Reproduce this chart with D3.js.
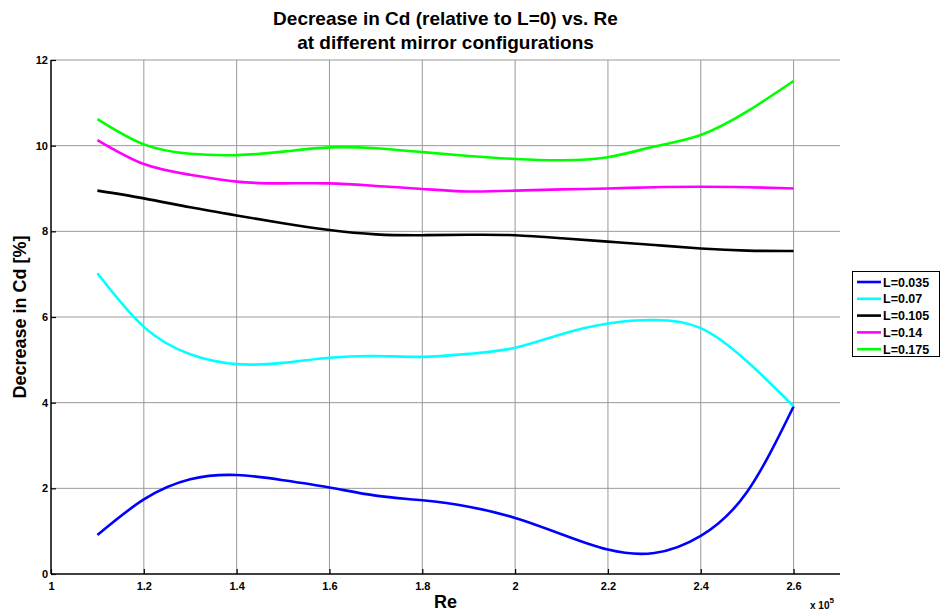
<!DOCTYPE html>
<html><head><meta charset="utf-8">
<script src="https://cdn.jsdelivr.net/npm/d3@7"></script>
<style>body{margin:0;background:#fff;} svg{display:block;font-family:Arial,"Liberation Sans",sans-serif;}</style>
</head><body>
<script>
const reValues = [1.1,1.2,1.3,1.4,1.5,1.6,1.7,1.8,1.9,2.0,2.1,2.2,2.3,2.4,2.5,2.6];
const seriesNames = ["L=0.035","L=0.07","L=0.105","L=0.14","L=0.175"];
const seriesColors = ["#0000ff","#00ffff","#000000","#ff00ff","#00ff00"];
const L035 = [0.91,1.74,2.21,2.31,2.19,2.02,1.83,1.72,1.57,1.31,0.93,0.57,0.49,0.89,1.92,3.91];
const L070 = [7.02,5.77,5.13,4.90,4.93,5.05,5.09,5.07,5.14,5.28,5.60,5.85,5.93,5.74,4.96,3.92];
const L105 = [8.95,8.77,8.56,8.37,8.19,8.03,7.93,7.91,7.92,7.91,7.84,7.76,7.68,7.60,7.55,7.54];
const L140 = [10.13,9.57,9.32,9.16,9.12,9.12,9.06,8.99,8.93,8.95,8.98,9.00,9.03,9.04,9.03,9.00];
const L175 = [10.62,10.03,9.81,9.78,9.86,9.96,9.94,9.85,9.76,9.69,9.66,9.73,9.98,10.25,10.80,11.51];
const xTicks = [1,1.2,1.4,1.6,1.8,2,2.2,2.4,2.6];
const yTicks = [0,2,4,6,8,10,12];
const titleLines = ["Decrease in Cd (relative to L=0) vs. Re","at different mirror configurations"];

const seriesData = [L035,L070,L105,L140,L175];
const W=943,H=611;
const m={left:51,right:840,top:60,bottom:574};
const svg=d3.select("body").append("svg").attr("width",W).attr("height",H);
const x=d3.scaleLinear().domain([1,2.7]).range([m.left,m.right]);
const y=d3.scaleLinear().domain([0,12]).range([m.bottom,m.top]);

// grid
const g=svg.append("g");
g.selectAll("line.vg").data(xTicks.filter(d=>d>1)).enter().append("line")
 .attr("x1",d=>x(d)).attr("x2",d=>x(d)).attr("y1",m.top).attr("y2",m.bottom)
 .attr("stroke","#999").attr("stroke-width",1);
g.selectAll("line.hg").data(yTicks.filter(d=>d>0)).enter().append("line")
 .attr("x1",m.left).attr("x2",m.right).attr("y1",d=>y(d)).attr("y2",d=>y(d))
 .attr("stroke","#999").attr("stroke-width",1);

// axes
const xAxis=d3.axisBottom(x).tickValues(xTicks).tickSize(-5).tickFormat(d3.format("~g"));
const yAxis=d3.axisLeft(y).tickValues(yTicks).tickSize(-5).tickFormat(d3.format("~g"));
const gx=svg.append("g").attr("transform",`translate(0,${m.bottom})`).call(xAxis);
gx.select(".domain").attr("d",`M${m.left},0H${m.right}`).attr("stroke","#000").attr("stroke-width",1.5);
gx.selectAll(".tick line").attr("stroke","#000").attr("stroke-width",1.2);
gx.selectAll(".tick text").attr("dy","0").attr("y",16).attr("font-size",11).attr("font-weight","bold").attr("fill","#000");
const gy=svg.append("g").attr("transform",`translate(${m.left},0)`).call(yAxis);
gy.select(".domain").attr("d",`M0,${m.top}V${m.bottom}`).attr("stroke","#000").attr("stroke-width",1.5);
gy.selectAll(".tick line").attr("stroke","#000").attr("stroke-width",1.2);
gy.selectAll(".tick text").attr("x",-3).attr("font-size",11).attr("font-weight","bold").attr("fill","#000");

// lines
const line=d3.line().x((d,i)=>x(reValues[i])).y(d=>y(d)).curve(d3.curveNatural);
svg.append("g").selectAll("path").data(seriesData).enter().append("path")
 .attr("d",d=>line(d)).attr("fill","none").attr("stroke",(d,i)=>seriesColors[i]).attr("stroke-width",2.6);

// title
svg.append("g").selectAll("text").data(titleLines).enter().append("text")
 .attr("x",(m.left+m.right)/2).attr("y",(d,i)=>25+i*23.5).attr("text-anchor","middle")
 .attr("font-size",19).attr("font-weight","bold").text(d=>d);

// axis labels
svg.append("text").attr("x",(m.left+m.right)/2).attr("y",608).attr("text-anchor","middle")
 .attr("font-size",18).attr("font-weight","bold").text("Re");
svg.append("text").attr("transform",`translate(26,${(m.top+m.bottom)/2}) rotate(-90)`).attr("text-anchor","middle")
 .attr("font-size",18).attr("font-weight","bold").text("Decrease in Cd [%]");
const ex=svg.append("text").attr("x",810).attr("y",609).attr("font-size",10).attr("font-weight","bold");
ex.append("tspan").text("x 10");
ex.append("tspan").attr("dy",-6).attr("font-size",8).text("5");

// legend
const lg=svg.append("g");
lg.append("rect").attr("x",852.5).attr("y",271.5).attr("width",87).attr("height",85)
 .attr("fill","#fff").attr("stroke","#000").attr("stroke-width",1);
seriesNames.forEach((n,i)=>{
  const yy=282+i*16.8;
  lg.append("line").attr("x1",857).attr("x2",881).attr("y1",yy).attr("y2",yy)
    .attr("stroke",seriesColors[i]).attr("stroke-width",2.6);
  lg.append("text").attr("x",883).attr("y",yy+4.5).attr("font-size",12.5).attr("font-weight","bold").text(n);
});
</script>
</body></html>
